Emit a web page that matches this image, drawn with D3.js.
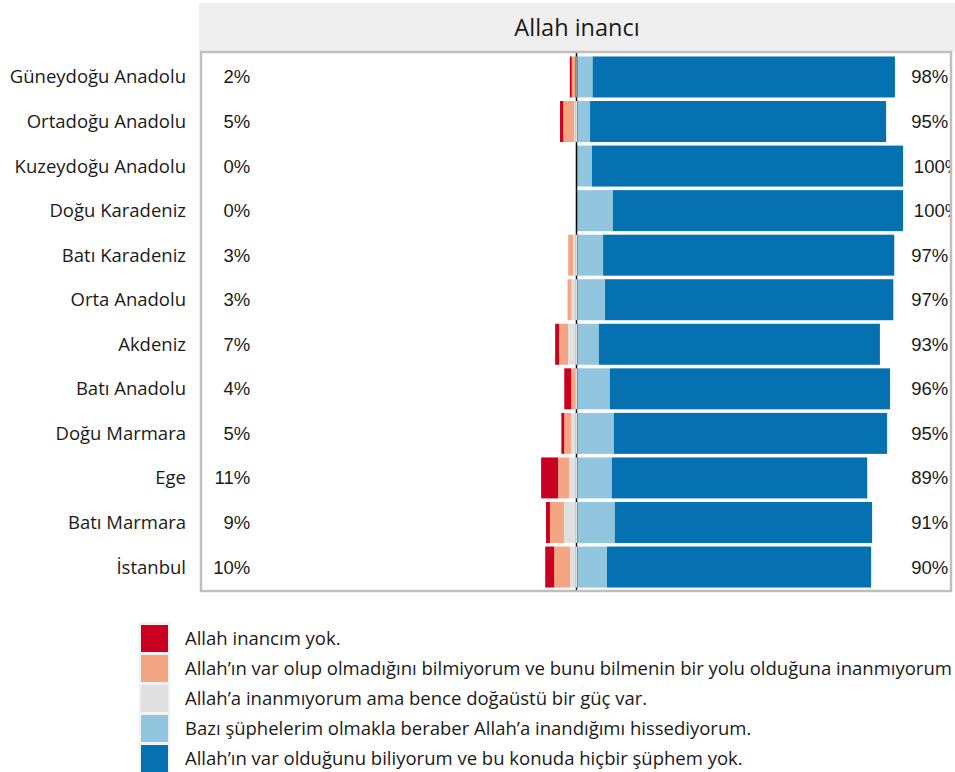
<!DOCTYPE html>
<html><head><meta charset="utf-8">
<script src="https://cdn.jsdelivr.net/npm/d3@7"></script>
<style>body{margin:0;background:#fff}svg{display:block}</style>
</head><body>
<script>
const regions = ["Güneydoğu Anadolu","Ortadoğu Anadolu","Kuzeydoğu Anadolu","Doğu Karadeniz","Batı Karadeniz","Orta Anadolu","Akdeniz","Batı Anadolu","Doğu Marmara","Ege","Batı Marmara","İstanbul"];
const noBelief   = [0.6, 1.0, 0,   0,   0,   0,   1.2, 2.1, 0.9, 5.2, 1.2, 2.75];
const dontKnow   = [1.4, 3.3, 0,   0,   1.5, 1.2, 2.75,1.2, 2.1, 3.4, 4.3, 4.9];
const higherPow  = [0.2, 0.9, 0.4, 0.4, 1.2, 1.7, 2.75,0.6, 1.8, 2.4, 4.0, 2.1];
const someDoubts = [4.8, 4.0, 4.6, 11.0,8.0, 8.6, 6.7, 10.1,11.3,10.7,11.6,9.2];
const noDoubts   = [92.7,90.8,95.4,89.0,89.3,88.4,86.2,85.9,83.8,78.3,78.9,81.0];
const negLabels = ["2%","5%","0%","0%","3%","3%","7%","4%","5%","11%","9%","10%"];
const posLabels = ["98%","95%","100%","100%","97%","97%","93%","96%","95%","89%","91%","90%"];
const legendLabels = ["Allah inancım yok.",
 "Allah’ın var olup olmadığını bilmiyorum ve bunu bilmenin bir yolu olduğuna inanmıyorum",
 "Allah’a inanmıyorum ama bence doğaüstü bir güç var.",
 "Bazı şüphelerim olmakla beraber Allah’a inandığımı hissediyorum.",
 "Allah’ın var olduğunu biliyorum ve bu konuda hiçbir şüphem yok."];
const colors = ["#ca0020","#f4a582","#e0e0e0","#92c5de","#0571b0"];
const title = "Allah inancı";

const W = 955, H = 772;
const svg = d3.select("body").append("svg").attr("width", W).attr("height", H);

const panel = {x0: 201, x1: 951, y0: 52, y1: 591};
const x = d3.scaleLinear().domain([-115, 115]).range([202, 952]);
const y = d3.scaleBand().domain(regions).range([54.7, 589.3]).paddingInner(0.08).paddingOuter(0.04);

// strip
svg.append("rect").attr("x", 199).attr("y", 3).attr("width", W - 199).attr("height", panel.y0 - 3).attr("fill", "#efefef");
svg.append("text").attr("x", x(0)).attr("y", 36).attr("text-anchor", "middle")
  .attr("font-family", "Open Sans").attr("font-size", 23.5).attr("fill", "#1a1a1a").text(title);

svg.append("defs").append("clipPath").attr("id", "pc").append("rect")
  .attr("x", panel.x0).attr("y", panel.y0).attr("width", panel.x1 - panel.x0).attr("height", panel.y1 - panel.y0);
const g = svg.append("g").attr("clip-path", "url(#pc)");

// stacked bars
const rows = regions.map((r, i) => ({r, neg: [noBelief[i], dontKnow[i], higherPow[i]], pos: [someDoubts[i], noDoubts[i]]}));
rows.forEach(d => {
  let cur = 0;
  const segs = [];
  [2, 1, 0].forEach(k => { const v = d.neg[k]; segs.push({k, a: cur - v, b: cur}); cur -= v; });
  cur = 0;
  [0, 1].forEach(j => { const v = d.pos[j]; segs.push({k: 3 + j, a: cur, b: cur + v}); cur += v; });
  g.selectAll(null).data(segs.filter(s => s.b - s.a > 0)).enter().append("rect")
    .attr("x", s => x(s.a)).attr("width", s => x(s.b) - x(s.a))
    .attr("y", y(d.r)).attr("height", y.bandwidth())
    .attr("fill", s => colors[s.k]);
});

// center line (visible in gaps and where nothing is on the left)
g.append("line").attr("x1", x(0) - 0.5).attr("x2", x(0) - 0.5).attr("y1", panel.y0).attr("y2", panel.y1)
  .attr("stroke", "#000").attr("stroke-width", 1.5);
// re-cover the line where the negative stack is large enough
rows.forEach(d => {
  const negTot = d.neg[0] + d.neg[1] + d.neg[2];
  if (negTot >= 1) {
    g.append("rect").attr("x", x(-Math.min(d.neg[2] || 0.5, 0.5))).attr("width", x(0) - x(-Math.min(d.neg[2] || 0.5, 0.5)))
      .attr("y", y(d.r)).attr("height", y.bandwidth()).attr("fill", colors[d.neg[2] > 0 ? 2 : 1]);
  }
});

// percent labels
g.selectAll(".nl").data(regions).enter().append("text")
  .attr("x", x(-100.2)).attr("y", r => y(r) + y.bandwidth() / 2 + 6.5).attr("text-anchor", "end")
  .attr("font-family", "Liberation Sans, Arial").attr("font-size", 18.5).attr("fill", "#1a1a1a")
  .text((r, i) => negLabels[i]);
g.selectAll(".pl").data(regions).enter().append("text")
  .attr("x", (r, i) => posLabels[i] === "100%" ? x(103.3) : x(102.5))
  .attr("y", r => y(r) + y.bandwidth() / 2 + 6.5).attr("text-anchor", "start")
  .attr("font-family", "Liberation Sans, Arial").attr("font-size", 18.5).attr("fill", "#1a1a1a")
  .text((r, i) => posLabels[i]);

// panel border
svg.append("rect").attr("x", panel.x0).attr("y", panel.y0).attr("width", panel.x1 - panel.x0).attr("height", panel.y1 - panel.y0)
  .attr("fill", "none").attr("stroke", "#bebebe").attr("stroke-width", 2.5);

// y axis labels
svg.selectAll(".yl").data(regions).enter().append("text")
  .attr("x", 186).attr("y", r => y(r) + y.bandwidth() / 2 + 6.5)
  .attr("text-anchor", "end").attr("font-family", "Open Sans").attr("font-size", 18.5).attr("fill", "#1a1a1a")
  .text(r => r);

// legend
const lg = svg.append("g");
lg.append("rect").attr("x", 139).attr("y", 622).attr("width", 31).attr("height", 152).attr("fill", "#f2f2f2");
legendLabels.forEach((t, i) => {
  lg.append("rect").attr("x", 141).attr("y", 625 + i * 30).attr("width", 27).attr("height", 27).attr("fill", colors[i]);
  lg.append("text").attr("x", 185).attr("y", 645 + i * 30).attr("font-family", "Open Sans").attr("font-size", 18.5)
    .attr("fill", "#1a1a1a").text(t);
});
</script>
</body></html>
